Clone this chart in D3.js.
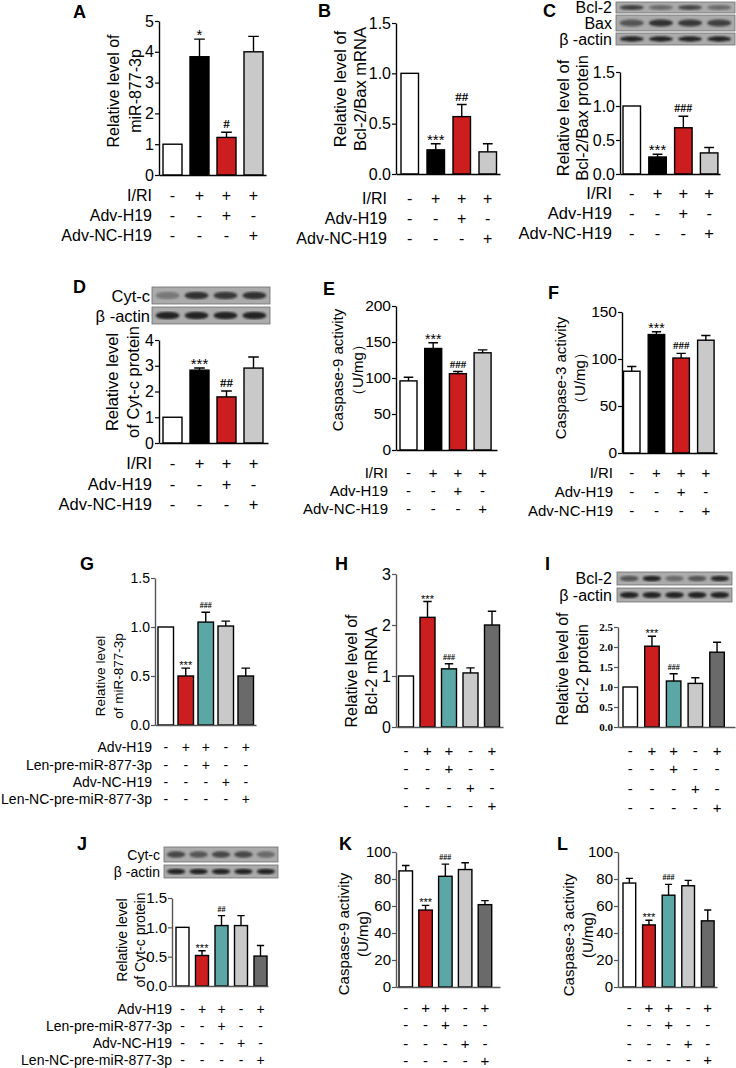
<!DOCTYPE html>
<html>
<head>
<meta charset="utf-8">
<script src="https://cdn.jsdelivr.net/npm/d3@7"></script>
<style>
  body { margin: 0; background: #fff; }
  svg { display: block; font-family: "Liberation Sans", Arial, sans-serif; }
</style>
</head>
<body>
<div id="fig"></div>
<script>
// treatment tables
var rowsAF = ["I/RI", "Adv-H19", "Adv-NC-H19"];
var signsAF = [["-", "+", "+", "+"], ["-", "-", "+", "-"], ["-", "-", "-", "+"]];
var rowsGL = ["Adv-H19", "Len-pre-miR-877-3p", "Adv-NC-H19", "Len-NC-pre-miR-877-3p"];
var signsGL = [["-", "+", "+", "-", "+"], ["-", "-", "+", "-", "-"], ["-", "-", "-", "+", "-"], ["-", "-", "-", "-", "+"]];
var colorsAF = ["#ffffff", "#000000", "#cc1d1f", "#c9c9c9"];
var colorsGL = ["#ffffff", "#cc1d1f", "#5ba7a6", "#c9c9c9", "#6a6a6a"];

// bar heights, error bars and significance marks
var aMean = [1, 3.84, 1.22, 4.0], aErr = [0, 0.57, 0.17, 0.5], aMarks = ["", "*", "#", ""];
var bMean = [1.0, 0.24, 0.57, 0.22], bErr = [0, 0.06, 0.12, 0.08], bMarks = ["", "***", "##", ""];
var cMean = [1.0, 0.25, 0.68, 0.31], cErr = [0, 0.04, 0.17, 0.08], cMarks = ["", "***", "###", ""];
var dMean = [1.0, 2.83, 1.79, 2.91], dErr = [0, 0.08, 0.23, 0.43], dMarks = ["", "***", "##", ""];
var eMean = [96, 141, 106, 135], eErr = [5, 8, 3, 4], eMarks = ["", "***", "###", ""];
var fMean = [87, 126, 101, 120], fErr = [5, 3, 5, 5], fMarks = ["", "***", "###", ""];
var gMean = [1.0, 0.5, 1.05, 1.01, 0.5], gErr = [0, 0.08, 0.1, 0.05, 0.08], gMarks = ["", "***", "###", "", ""];
var hMean = [1.0, 2.15, 1.14, 1.06, 2.0], hErr = [0, 0.31, 0.1, 0.1, 0.27], hMarks = ["", "***", "###", "", ""];
var iMean = [1.0, 2.02, 1.15, 1.09, 1.87], iErr = [0, 0.25, 0.18, 0.14, 0.25], iMarks = ["", "***", "###", "", ""];
var jMean = [1.0, 0.52, 1.03, 1.03, 0.51], jErr = [0, 0.08, 0.17, 0.17, 0.18], jMarks = ["", "***", "##", "", ""];
var kMean = [86, 57, 82, 87, 61], kErr = [4, 3.5, 9, 5, 3], kMarks = ["", "***", "###", "", ""];
var lMean = [77, 46, 68, 75, 49], lErr = [3.5, 3.5, 8, 4, 8], lMarks = ["", "***", "###", "", ""];

// blot band strengths per lane
var cBlot = [["Bcl-2", [0.75, 0.45, 0.7, 0.45]], ["Bax", [0.6, 0.85, 0.8, 0.75]], ["β -actin", [0.95, 0.95, 0.95, 0.95]]];
var dBlot = [["Cyt-c", [0.35, 0.85, 0.8, 0.85]], ["β -actin", [0.95, 0.95, 0.95, 0.95]]];
var iBlot = [["Bcl-2", [0.6, 0.95, 0.45, 0.6, 0.9]], ["β -actin", [0.95, 0.95, 0.95, 0.95, 0.95]]];
var jBlot = [["Cyt-c", [0.7, 0.6, 0.7, 0.7, 0.45]], ["β -actin", [0.95, 0.95, 0.95, 0.95, 0.95]]];

var svg = d3.select("#fig").append("svg")
    .attr("width", 736)
    .attr("height", 1068);

svg.append("defs").append("filter")
    .attr("id", "soft")
    .append("feGaussianBlur")
    .attr("stdDeviation", 0.9);

var panels = [
  {letter: "A", lx: 73, ly: 18, mean: aMean, err: aErr, marks: aMarks, colors: colorsAF,
   x0: 159, xEnd: 266, yTop: 21, yBot: 175, domain: [0, 5], ticks: [0, 1, 2, 3, 4, 5], fmt: "d",
   first: 163, step: 27, bw: 19, title: ["Relative level of", "miR-877-3p"], tx: [113, 135], ty: 91, tsize: 16,
   ticksize: 16, rows: rowsAF, signs: signsAF, ry: [195, 215, 235], labelX: 152, rsize: 16, msize: 15, hsize: 13, axis: "#000"},
  {letter: "B", lx: 318, ly: 17, mean: bMean, err: bErr, marks: bMarks, colors: colorsAF,
   x0: 396, xEnd: 500, yTop: 23, yBot: 174, domain: [0, 1.5], ticks: [0, 0.5, 1, 1.5], fmt: ".1f",
   first: 401, step: 26, bw: 17.5, title: ["Relative level of", "Bcl-2/Bax mRNA"], tx: [340, 360], ty: 89, tsize: 16.5,
   ticksize: 16, rows: rowsAF, signs: signsAF, ry: [198, 218, 238], labelX: 387, rsize: 16, msize: 15, hsize: 13, axis: "#000"},
  {letter: "C", lx: 543, ly: 17, mean: cMean, err: cErr, marks: cMarks, colors: colorsAF,
   x0: 620, xEnd: 720, yTop: 72, yBot: 174, domain: [0, 1.5], ticks: [0, 0.5, 1, 1.5], fmt: ".1f",
   first: 623, step: 25.8, bw: 17.5, title: ["Relative level of", "Bcl-2/Bax protein"], tx: [563, 582], ty: 118, tsize: 16.5,
   ticksize: 16, rows: rowsAF, signs: signsAF, ry: [193, 213, 233], labelX: 612, rsize: 16.5, msize: 15, hsize: 12, axis: "#000",
   blot: cBlot, bx: [616, 735], by: [[2, 13], [15, 31], [33, 45]], blx: 612, bsize: 16},
  {letter: "D", lx: 73, ly: 293, mean: dMean, err: dErr, marks: dMarks, colors: colorsAF,
   x0: 159, xEnd: 268, yTop: 340, yBot: 443, domain: [0, 4], ticks: [0, 1, 2, 3, 4], fmt: "d",
   first: 163, step: 27, bw: 19, title: ["Relative level", "of Cyt-c protein"], tx: [112, 133], ty: 382, tsize: 16.5,
   ticksize: 16, rows: rowsAF, signs: signsAF, ry: [463, 484, 504], labelX: 152, rsize: 16.5, msize: 15, hsize: 13, axis: "#000",
   blot: dBlot, bx: [152, 270], by: [[287, 304], [307, 324]], blx: 150, bsize: 16.5},
  {letter: "E", lx: 323, ly: 295, mean: eMean, err: eErr, marks: eMarks, colors: colorsAF,
   x0: 396, xEnd: 497, yTop: 306, yBot: 450, domain: [0, 200], ticks: [0, 50, 100, 150, 200], fmt: "d",
   first: 400, step: 24.7, bw: 17, title: ["Caspase-9 activity", "（U/mg）"], tx: [337, 357], ty: 370, tsize: 15,
   ticksize: 15.5, rows: rowsAF, signs: signsAF, ry: [472, 490, 508], labelX: 388, rsize: 15, msize: 14, hsize: 11, axis: "#000"},
  {letter: "F", lx: 548, ly: 299, mean: fMean, err: fErr, marks: fMarks, colors: colorsAF,
   x0: 622, xEnd: 717, yTop: 312, yBot: 453, domain: [0, 150], ticks: [0, 50, 100, 150], fmt: "d",
   first: 623.5, step: 24.7, bw: 16.5, title: ["Caspase-3 activity", "（U/mg）"], tx: [560, 579], ty: 378, tsize: 15,
   ticksize: 15.5, rows: rowsAF, signs: signsAF, ry: [472, 491, 510], labelX: 613, rsize: 15, msize: 14, hsize: 11, axis: "#000"},
  {letter: "G", lx: 80, ly: 570, mean: gMean, err: gErr, marks: gMarks, colors: colorsGL,
   x0: 155, xEnd: 256, yTop: 578, yBot: 725, domain: [0, 1.5], ticks: [0, 0.5, 1, 1.5], fmt: ".1f",
   first: 158, step: 20, bw: 15.5, title: ["Relative level", "of miR-877-3p"], tx: [100, 118], ty: 676, tsize: 13.5,
   ticksize: 14, rows: rowsGL, signs: signsGL, ry: [747, 765, 782, 799], labelX: 152, rsize: 14, msize: 11, hsize: 8, axis: "#555"},
  {letter: "H", lx: 335, ly: 570, mean: hMean, err: hErr, marks: hMarks, colors: colorsGL,
   x0: 396, xEnd: 503, yTop: 574, yBot: 727, domain: [0, 3], ticks: [0, 1, 2, 3], fmt: "d",
   first: 398.5, step: 21.5, bw: 15, title: ["Relative level of", "Bcl-2 mRNA"], tx: [351, 371], ty: 671, tsize: 16,
   ticksize: 16, rows: null, signs: signsGL, ry: [750, 768, 787, 805], labelX: 0, rsize: 15, msize: 11, hsize: 8, axis: "#555"},
  {letter: "I", lx: 545, ly: 570, mean: iMean, err: iErr, marks: iMarks, colors: colorsGL,
   x0: 618, xEnd: 735, yTop: 627, yBot: 727, domain: [0, 2.5], ticks: [0, 0.5, 1, 1.5, 2, 2.5], fmt: ".1f",
   first: 623, step: 21.7, bw: 14.5, title: ["Relative level of", "Bcl-2 protein"], tx: [562, 582], ty: 669, tsize: 16,
   ticksize: 11, tickserif: true, rows: null, signs: signsGL, ry: [750, 768, 788, 807], labelX: 0, rsize: 15, msize: 11, hsize: 8, axis: "#555",
   blot: iBlot, bx: [617, 732], by: [[572, 585], [588, 602]], blx: 612, bsize: 16},
  {letter: "J", lx: 77, ly: 850, mean: jMean, err: jErr, marks: jMarks, colors: colorsGL,
   x0: 172, xEnd: 268, yTop: 898, yBot: 986, domain: [0, 1.5], ticks: [0, 0.5, 1, 1.5], fmt: ".1f",
   first: 176, step: 19.5, bw: 13, title: ["Relative level", "of Cyt-c protein"], tx: [122, 140], ty: 940, tsize: 14,
   ticksize: 15, rows: rowsGL, signs: signsGL, ry: [1009, 1026, 1043, 1060], labelX: 172, rsize: 14, msize: 11, hsize: 8, axis: "#555",
   blot: jBlot, bx: [164, 278], by: [[847, 862], [865, 878]], blx: 160, bsize: 14},
  {letter: "K", lx: 339, ly: 850, mean: kMean, err: kErr, marks: kMarks, colors: colorsGL,
   x0: 396, xEnd: 500, yTop: 852, yBot: 987, domain: [0, 100], ticks: [0, 20, 40, 60, 80, 100], fmt: "d",
   first: 399, step: 19.8, bw: 13.5, title: ["Caspase-9 activity", "(U/mg)"], tx: [343, 362], ty: 934, tsize: 15,
   ticksize: 15, rows: null, signs: signsGL, ry: [1007, 1024, 1043, 1060], labelX: 0, rsize: 15, msize: 11, hsize: 8, axis: "#555"},
  {letter: "L", lx: 557, ly: 850, mean: lMean, err: lErr, marks: lMarks, colors: colorsGL,
   x0: 618, xEnd: 717, yTop: 852, yBot: 987, domain: [0, 100], ticks: [0, 20, 40, 60, 80, 100], fmt: "d",
   first: 623, step: 19.6, bw: 12.7, title: ["Caspase-3 activity", "(U/mg)"], tx: [568, 587], ty: 935, tsize: 15,
   ticksize: 15, rows: null, signs: signsGL, ry: [1007, 1024, 1043, 1059], labelX: 0, rsize: 15, msize: 11, hsize: 8, axis: "#555"}
];

function drawBlot(g, p) {
  p.blot.forEach(function(row, r) {
    var top = p.by[r][0], bot = p.by[r][1];
    var lane = d3.scaleBand()
        .domain(d3.range(row[1].length))
        .range([p.bx[0], p.bx[1]])
        .padding(0.08);
    g.append("rect")
        .attr("x", p.bx[0])
        .attr("y", top)
        .attr("width", p.bx[1] - p.bx[0])
        .attr("height", bot - top)
        .attr("fill", "#ababab")
        .attr("stroke", "#6e6e6e")
        .attr("stroke-width", 0.8);
    g.selectAll(null)
        .data(row[1])
        .enter()
        .append("ellipse")
        .attr("cx", (d, i) => lane(i) + lane.bandwidth() / 2)
        .attr("cy", (top + bot) / 2)
        .attr("rx", lane.bandwidth() * 0.45)
        .attr("ry", (bot - top) * 0.22)
        .attr("fill", "#1a1a1a")
        .attr("opacity", d => d)
        .attr("filter", "url(#soft)");
    g.append("text")
        .attr("x", p.blx)
        .attr("y", (top + bot) / 2)
        .attr("text-anchor", "end")
        .attr("dominant-baseline", "central")
        .attr("font-size", p.bsize)
        .text(row[0]);
  });
}

function drawPanel(p) {
  var g = svg.append("g");
  var n = p.mean.length;

  var y = d3.scaleLinear().domain(p.domain).range([p.yBot, p.yTop]);
  var x = d3.scaleBand()
      .domain(d3.range(n))
      .range([p.first, p.first + n * p.step - (p.step - p.bw)])
      .paddingInner((p.step - p.bw) / p.step)
      .paddingOuter(0);

  // panel letter
  g.append("text")
      .attr("x", p.lx)
      .attr("y", p.ly)
      .attr("font-size", 18)
      .attr("font-weight", "bold")
      .text(p.letter);

  if (p.blot) drawBlot(g, p);

  // bars
  g.selectAll(".bar")
      .data(p.mean)
      .enter()
      .append("rect")
      .attr("x", (d, i) => x(i))
      .attr("y", d => y(d))
      .attr("width", x.bandwidth())
      .attr("height", d => y(0) - y(d))
      .attr("fill", (d, i) => p.colors[i])
      .attr("stroke", "#000")
      .attr("stroke-width", 1.4);

  // error bars (upper only)
  p.mean.forEach(function(m, i) {
    if (!p.err[i]) return;
    var cx = x(i) + x.bandwidth() / 2;
    var cap = x.bandwidth() * 0.28;
    g.append("path")
        .attr("d", `M${cx},${y(m)}V${y(m + p.err[i])}M${cx - cap},${y(m + p.err[i])}H${cx + cap}`)
        .attr("stroke", "#000")
        .attr("stroke-width", 1.4)
        .attr("fill", "none");
  });

  // significance marks
  g.selectAll(".mark")
      .data(p.marks)
      .enter()
      .append("text")
      .attr("x", (d, i) => x(i) + x.bandwidth() / 2)
      .attr("y", (d, i) => y(p.mean[i] + p.err[i]) - (d.indexOf("#") >= 0 ? 4 : -1))
      .attr("text-anchor", "middle")
      .attr("font-family", d => d.indexOf("#") >= 0 ? "Liberation Serif, serif" : null)
      .attr("font-weight", d => d.indexOf("#") >= 0 ? "bold" : null)
      .attr("font-size", d => d.indexOf("#") >= 0 ? p.hsize : p.msize)
      .text(d => d);

  // y axis
  var yAxis = g.append("g")
      .attr("transform", `translate(${p.x0},0)`)
      .call(d3.axisLeft(y)
          .tickValues(p.ticks)
          .tickFormat(d3.format(p.fmt))
          .tickSize(4)
          .tickSizeOuter(0)
          .tickPadding(1));
  yAxis.select(".domain").attr("stroke", p.axis).attr("stroke-width", 1.4);
  yAxis.selectAll(".tick line").attr("stroke", p.axis).attr("stroke-width", 1.2);
  yAxis.selectAll(".tick text")
      .attr("fill", "#000")
      .attr("font-size", p.ticksize)
      .attr("font-family", p.tickserif ? "Liberation Serif, serif" : "Liberation Sans, Arial, sans-serif")
      .attr("font-weight", p.tickserif ? "bold" : null);

  // x axis line
  var xAxis = g.append("g")
      .attr("transform", `translate(0,${p.yBot})`)
      .call(d3.axisBottom(d3.scaleLinear().range([p.x0, p.xEnd]))
          .tickValues([])
          .tickSizeOuter(0));
  xAxis.select(".domain").attr("stroke", p.axis).attr("stroke-width", 1.4);

  // y title
  p.title.forEach(function(t, k) {
    g.append("text")
        .attr("transform", `translate(${p.tx[k]},${p.ty}) rotate(-90)`)
        .attr("text-anchor", "middle")
        .attr("dominant-baseline", "central")
        .attr("font-size", p.tsize)
        .text(t);
  });

  // treatment table
  p.signs.forEach(function(row, r) {
    if (p.rows) {
      g.append("text")
          .attr("x", p.labelX)
          .attr("y", p.ry[r])
          .attr("text-anchor", "end")
          .attr("dominant-baseline", "central")
          .attr("font-size", p.rsize)
          .text(p.rows[r]);
    }
    g.selectAll(null)
        .data(row)
        .enter()
        .append("text")
        .attr("x", (d, i) => x(i) + x.bandwidth() / 2)
        .attr("y", p.ry[r])
        .attr("text-anchor", "middle")
        .attr("dominant-baseline", "central")
        .attr("font-size", p.rsize)
        .text(d => d);
  });
}

panels.forEach(drawPanel);
</script>
</body>
</html>
